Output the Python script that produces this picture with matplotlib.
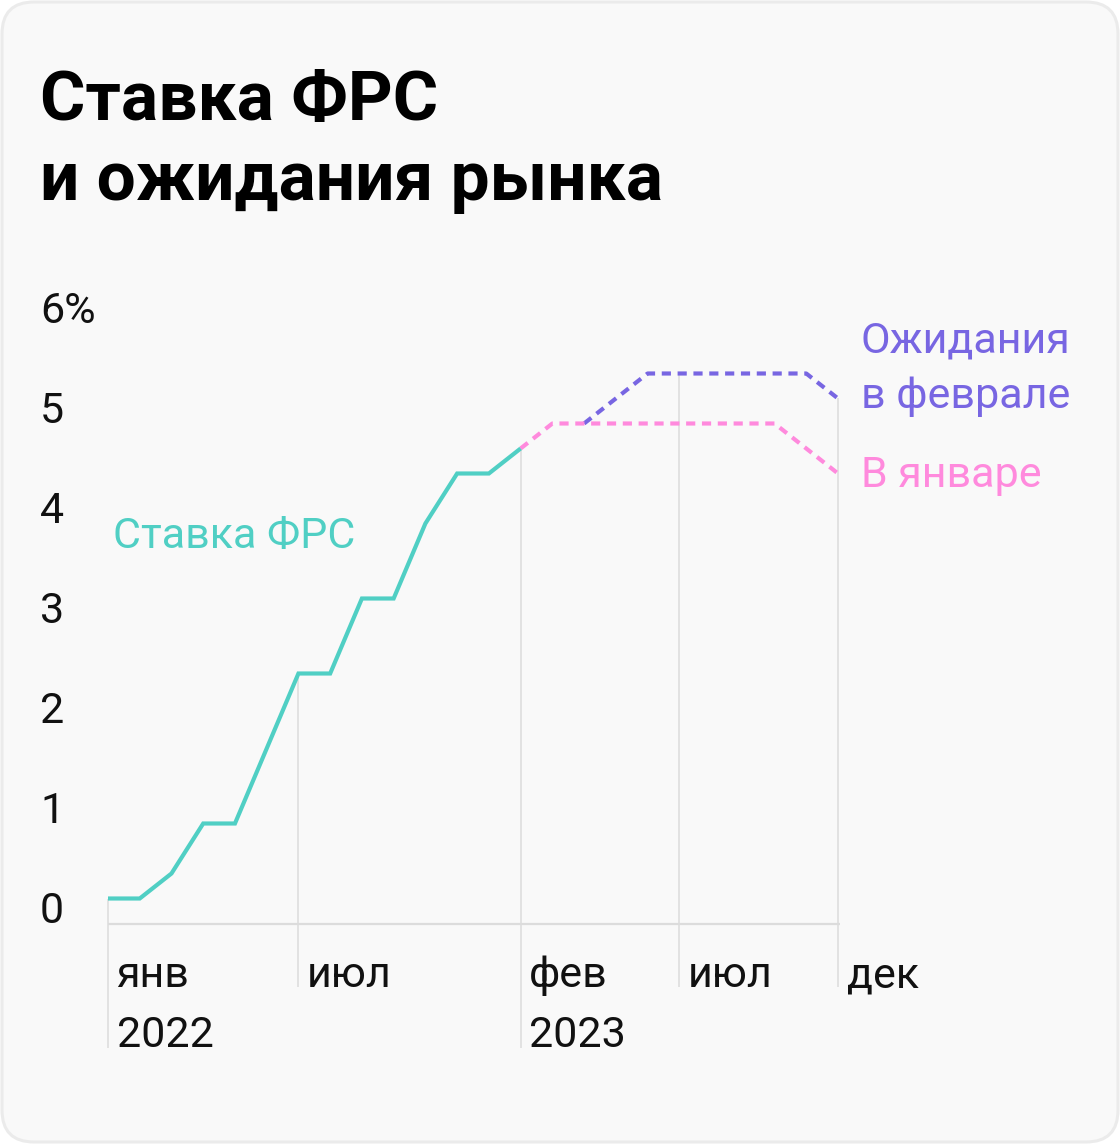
import matplotlib
matplotlib.use("Agg")
import matplotlib.pyplot as plt
from matplotlib.patches import FancyBboxPatch
from matplotlib.transforms import IdentityTransform

# ---------------- data ----------------
# month index: 0 = Jan 2022 ... 23 = Dec 2023
fed_months = list(range(0, 14))
fed_rate = [0.125, 0.125, 0.375, 0.875, 0.875, 1.625, 2.375, 2.375,
            3.125, 3.125, 3.875, 4.375, 4.375, 4.625]

jan_months = list(range(13, 24))
jan_expect = [4.625, 4.875, 4.875, 4.875, 4.875, 4.875, 4.875, 4.875,
              4.875, 4.625, 4.375]

feb_months = list(range(15, 24))
feb_expect = [4.875, 5.125, 5.375, 5.375, 5.375, 5.375, 5.375, 5.375, 5.125]

y_ticks = [0, 1, 2, 3, 4, 5, 6]
y_tick_labels = ["0", "1", "2", "3", "4", "5", "6%"]

x_tick_months = [0, 6, 13, 18, 23]
x_tick_labels = ["янв", "июл", "фев", "июл", "дек"]
year_months = [0, 13]
year_labels = ["2022", "2023"]

title_lines = ["Ставка ФРС", "и ожидания рынка"]
label_fed = "Ставка ФРС"
label_feb = ["Ожидания", "в феврале"]
label_jan = "В январе"

# ---------------- style ----------------
plt.rcParams["font.family"] = ["Roboto", "DejaVu Sans"]
GREEN = "#50cfc4"
PURPLE = "#7866e2"
PINK = "#ff8add"
GRID = "#dcdcdc"
TXT = 31
W, H, DPI = 1120, 1144, 100

fig = plt.figure(figsize=(W / DPI, H / DPI), dpi=DPI)
fig.patch.set_facecolor("white")
card = FancyBboxPatch((2, 2), W - 4, H - 4,
                      boxstyle="round,pad=0,rounding_size=32",
                      transform=IdentityTransform(),
                      fc="#f9f9f9", ec="#ebebeb", lw=2.2, zorder=0)
fig.add_artist(card)

# axes covering the whole figure; scales chosen so layout matches
ax = fig.add_axes([0, 0, 1, 1])
px_per_month = (838 - 108) / 23.0
x0_px, y0_px, px_per_unit = 108, 911, 100
ax.set_xlim(-x0_px / px_per_month, (W - x0_px) / px_per_month)
ax.set_ylim((y0_px - H) / px_per_unit, y0_px / px_per_unit)
ax.axis("off")
ax.patch.set_alpha(0)

def val_at(m):
    vals = []
    for ms, vs in ((fed_months, fed_rate), (jan_months, jan_expect), (feb_months, feb_expect)):
        if m in ms:
            vals.append(vs[ms.index(m)])
    return max(vals)

# vertical grid lines
for m in x_tick_months:
    bottom = -1.37 if m in year_months else -0.76
    ax.vlines(m, bottom, val_at(m), color=GRID, lw=1.1, zorder=1)

# horizontal base line
ax.hlines(-0.13, x_tick_months[0], x_tick_months[-1] + 0.06, color=GRID, lw=1.6, zorder=1)

# series
ax.plot(feb_months, feb_expect, color=PURPLE, lw=3, dashes=(2.2, 1.6),
        dash_capstyle="butt", zorder=3)
ax.plot(jan_months, jan_expect, color=PINK, lw=3, dashes=(2.2, 1.6),
        dash_capstyle="butt", zorder=4)
ax.plot(fed_months, fed_rate, color=GREEN, lw=3, solid_joinstyle="miter",
        solid_capstyle="butt", zorder=5)

# y tick labels
for v, lab in zip(y_ticks, y_tick_labels):
    ax.text((40 - x0_px) / px_per_month, v - 0.12, lab, fontsize=TXT,
            color="#111111", ha="left", va="baseline")

# x tick labels
for m, lab in zip(x_tick_months, x_tick_labels):
    ax.text(m + 0.27, -0.76, lab, fontsize=TXT, color="#111111",
            ha="left", va="baseline")
for m, lab in zip(year_months, year_labels):
    ax.text(m + 0.27, -1.36, lab, fontsize=TXT, color="#111111",
            ha="left", va="baseline")

# series labels
ax.text(0.16, 3.63, label_fed, fontsize=TXT, color=GREEN, ha="left", va="baseline")
ax.text(23.72, 5.58, label_feb[0], fontsize=TXT, color=PURPLE, ha="left", va="baseline")
ax.text(23.72, 5.03, label_feb[1], fontsize=TXT, color=PURPLE, ha="left", va="baseline")
ax.text(23.72, 4.24, label_jan, fontsize=TXT, color=PINK, ha="left", va="baseline")

# title
fig.text(40 / W, 1 - 120 / H, title_lines[0], fontsize=50, weight="bold",
         color="black", ha="left", va="baseline")
fig.text(40 / W, 1 - 200 / H, title_lines[1], fontsize=50, weight="bold",
         color="black", ha="left", va="baseline")

fig.savefig("out.png", dpi=DPI, facecolor="white")
